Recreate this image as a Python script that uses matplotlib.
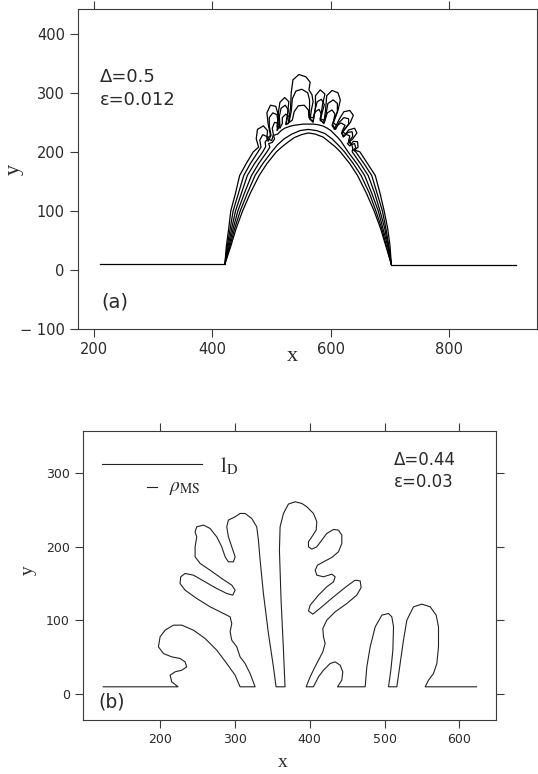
import matplotlib
matplotlib.use('Agg')
import matplotlib.pyplot as plt

plt.rcParams['font.family'] = ['DejaVu Sans']
plt.rcParams['mathtext.fontset'] = 'stix'

# ---------------- panel (a) data ----------------
a_xticks = [200, 400, 600, 800]
a_yticks = [-100, 0, 100, 200, 300, 400]
a_base_left = [(210, 10), (421, 10)]
a_base_right = [(702, 8), (912, 8)]

a_c0 = [(421, 10), (431, 40), (440, 70), (451, 100), (464, 130), (479, 160), (492, 180),
        (508, 200), (518, 209), (527, 216), (538, 224), (550, 229), (562, 232), (574, 230),
        (587, 225), (597, 217), (607, 209), (616, 200), (632, 180), (645, 160), (660, 130),
        (673, 100), (684, 70), (693, 40), (702, 10)]
a_c1 = [(421, 10), (429.5, 40), (437.5, 70), (447, 100), (459, 130), (472, 160), (485, 180),
        (500, 200), (510, 212), (521, 222), (534, 230), (548, 236), (562, 238), (576, 236),
        (590, 231), (602, 222), (613, 211), (623, 200), (638, 180), (651, 160), (665, 130),
        (676, 100), (686, 70), (694, 40), (702, 10)]
a_c2 = [(421, 10), (428, 40), (435, 70), (443, 100), (454, 130), (466, 160), (478, 180),
        (492, 200), (497, 208), (495, 214),
        (501, 216), (505, 222), (503, 228), (510, 230), (516, 236), (522, 240), (530, 243),
        (538, 245), (546, 246), (554, 247), (562, 247), (570, 247), (578, 246), (586, 244),
        (594, 240), (600, 236), (606, 230), (612, 224), (617, 218), (621, 212), (625, 206),
        (629, 200), (644, 180), (657, 160), (669, 130), (680, 100), (688, 70), (696, 40),
        (702, 10)]
a_c3 = [(421, 10), (426.5, 40), (432.5, 70), (439, 100), (449, 130), (459, 160), (471, 180),
        (485, 200),
        (490, 209), (489, 217), (494, 222), (500, 219),
        (503, 229), (501, 240), (505, 250), (512, 248), (514, 240),
        (518, 248), (518, 258), (524, 264), (530, 259), (530, 250),
        (535, 254), (538, 268), (545, 278), (555, 279), (562, 271), (563, 258),
        (570, 258), (574, 268), (580, 272), (584, 264), (582, 256),
        (590, 253), (594, 266), (602, 271), (607, 264), (604, 250),
        (610, 244), (617, 249), (624, 245), (619, 235),
        (625, 230), (632, 227), (630, 219),
        (635, 213), (637, 206),
        (636, 200), (650, 180), (663, 160), (674, 130), (683, 100), (691, 70), (697, 40),
        (702, 10)]
a_c4 = [(421, 10), (425, 40), (430, 70), (435, 100), (444, 130), (453, 160), (464, 180),
        (477, 200),
        (482, 208), (480, 220), (485, 229), (492, 226), (494, 218),
        (499, 228), (496, 243), (496, 258), (502, 266), (509, 263), (511, 249), (509, 236),
        (514, 244), (513, 260), (516, 274), (523, 279), (528, 271), (526, 255), (524, 246),
        (529, 249), (533, 268), (535, 290), (541, 303), (551, 306), (561, 300), (564, 288),
        (564, 272), (564, 256),
        (570, 252), (573, 270), (577, 285), (584, 289), (589, 280), (585, 265), (582, 253),
        (589, 249), (592, 265), (595, 282), (604, 288), (611, 282), (611, 268), (603, 246),
        (608, 238), (614, 250), (622, 258), (630, 256), (630, 247), (619, 232),
        (622, 226), (629, 233), (636, 234), (637, 226), (630, 218),
        (634, 212), (640, 214), (642, 207), (638, 203),
        (642, 200), (656, 180), (669, 160), (678, 130), (687, 100), (693, 70), (698, 40),
        (702, 10)]
a_c5 = [(421, 10), (423.5, 40), (427.5, 70), (431, 100), (439, 130), (446, 160), (457, 180),
        (469, 200),
        (478, 208), (474, 222), (476, 238), (486, 244), (493, 236), (492, 222),
        (498, 228), (494, 248), (492, 266), (498, 279), (507, 277), (511, 263), (509, 242),
        (513, 244), (511, 264), (514, 284), (522, 292), (529, 285), (527, 265), (524, 247),
        (528, 248), (532, 275), (533, 300), (536, 322), (546, 331), (558, 327), (565, 318),
        (563, 305), (568, 297), (570, 285), (567, 270), (565, 255),
        (570, 250), (574, 275), (574, 295), (582, 305), (590, 298), (586, 280), (582, 255),
        (588, 248), (591, 270), (593, 295), (602, 304), (612, 300), (616, 288), (612, 270),
        (602, 245),
        (606, 238), (614, 255), (622, 268), (632, 270), (638, 262), (633, 250), (618, 232),
        (621, 225), (630, 237), (640, 240), (644, 232), (637, 222), (628, 214),
        (632, 210), (638, 218), (645, 217), (646, 208), (640, 203),
        (649, 200), (662, 180), (675, 160), (683, 130), (690, 100), (696, 70), (700, 40),
        (702, 10)]
a_contours = [a_c0, a_c1, a_c2, a_c3, a_c4, a_c5]

# ---------------- panel (b) data ----------------
b_xticks = [200, 300, 400, 500, 600]
b_yticks = [0, 100, 200, 300]
b_base_left = [(124, 10), (224, 10)]
b_branch1 = [(224, 10), (215.6, 16.7), (213.4, 25.7), (220, 30.3), (229, 32.5), (235.6, 37),
             (233.4, 43.8), (226.7, 48.4), (215.6, 50.6), (204.5, 55.1), (197.8, 64.2),
             (200, 77.8), (206.7, 86.8), (217.8, 93.6), (229, 93.6), (244.6, 86.8),
             (260.2, 75.5), (275.7, 59.7), (289.1, 41.6), (300.3, 25.7), (306.9, 10)]
b_branch2 = [(327, 10), (320.3, 28), (313.6, 41.6), (306.9, 50.6), (302.5, 64.2), (295.8, 73.2),
             (293.6, 84.5), (295.8, 95.8), (293.6, 104.9), (284.7, 109.4), (266.8, 118.5),
             (249, 129.8), (233.4, 141.1), (226.7, 150.1), (227.6, 159.2), (233.4, 163.7),
             (244.6, 161.4), (260.2, 152.4), (275.7, 143.3), (289.1, 136.6), (297.1, 134.3),
             (300.3, 141.1), (295.8, 147.9), (282.4, 156.9), (266.8, 168.2), (253.5, 177.3),
             (246.8, 186.3), (246.8, 199.9), (249, 213.4), (246.8, 220.2), (249, 227),
             (257.9, 229.3), (266.8, 224.8), (275.7, 213.4), (282.4, 199.9), (286.9, 186.3),
             (291.3, 179.5), (298, 179.5), (300.3, 186.3), (295.8, 199.9), (291.3, 213.4),
             (289.1, 227), (291.3, 236.1), (300.3, 240.6), (306.9, 245.1), (313.6, 245.1),
             (322.5, 238.3), (329.2, 227), (331.4, 208.9), (333.7, 181.8), (338.1, 136.6),
             (344.8, 82.3), (351.5, 37), (355, 10)]
b_branch3 = [(367, 10), (364.9, 59.7), (361.7, 127.5), (359.5, 195.4), (360.4, 227),
             (364.9, 245.1), (371.5, 257.8), (380.5, 260.9), (389.4, 258.7), (396.1, 254.2),
             (405, 245.1), (409.5, 233.8), (408.6, 222.5), (402.8, 213.4), (398.3, 206.7),
             (398.3, 199.9), (402.8, 196.7), (409.5, 199.9), (416.2, 208.9), (422.8, 218),
             (431.8, 223.4), (438.4, 222.5), (442.9, 215.7), (442.9, 204.4), (438.4, 193.1),
             (429.5, 185.4), (418.4, 179.5), (410.4, 175), (407.3, 168.2), (409.5, 161.4),
             (418.4, 159.2), (429.5, 162.8), (434, 159.2), (431.8, 152.4), (422.8, 145.6),
             (411.7, 134.3), (400.6, 120.7), (398.3, 113), (404.1, 108.5), (416.2, 118.5),
             (431.8, 132), (449.6, 146.5), (460.7, 154.6), (467.4, 153.7), (468.7, 144.7),
             (462.9, 134.3), (449.6, 123), (434, 111.7), (422.8, 100.4), (417.5, 89.1),
             (418.4, 77.8), (420.6, 68.7), (417.5, 57.4), (411.7, 46.1), (405.9, 34.8),
             (400.6, 23.5), (395.2, 10)]
b_branch4 = [(405, 10), (411.7, 23.5), (418.4, 32.5), (427.3, 41.6), (434, 43.8), (440.7, 39.3),
             (444.2, 30.3), (442.9, 19), (437.1, 10)]
b_branch5 = [(474.1, 10), (476.3, 37), (480.8, 64.2), (487.5, 91.3), (496.4, 107.2),
             (505.3, 109.4), (509.7, 104.9), (512, 91.3), (511.1, 59.7), (508.4, 32.5),
             (505.3, 10)]
b_branch6 = [(516.4, 10), (520.9, 41.6), (525.3, 73.2), (529.8, 100.4), (538.7, 118.5),
             (549.8, 122.1), (561, 118.5), (569, 107.2), (572.1, 91.3), (572.1, 64.2),
             (569.9, 41.6), (565.4, 28), (558.8, 19), (554.3, 10)]
b_base_right = [(554.3, 10), (623, 10)]
b_interface = (b_base_left + b_branch1 + b_branch2 + b_branch3 + b_branch4 + b_branch5
               + b_branch6 + b_base_right)
b_lD = [(122, 312), (256, 312)]
b_rhoMS = [(183, 281), (196, 281)]

# ---------------- figure ----------------
fig = plt.figure(figsize=(5.38, 7.74), dpi=100)
axa = fig.add_axes([0.145, 0.575, 0.853, 0.4134])
axb = fig.add_axes([0.1543, 0.0698, 0.7677, 0.3734])

spine_col = '#3a3a3a'
txt_col = '#2a2a2a'
for ax in (axa, axb):
    for s in ax.spines.values():
        s.set_color(spine_col)
        s.set_linewidth(0.8)
    ax.tick_params(direction='out', length=6, width=0.8, color=spine_col, labelcolor=txt_col,
                   top=True, right=True, labeltop=False, labelright=False)


def xy(pts):
    return [p[0] for p in pts], [p[1] for p in pts]


# panel (a)
for seg in (a_base_left, a_base_right):
    axa.plot(*xy(seg), color='k', lw=0.9)
for c in a_contours:
    axa.plot(*xy(c), color='k', lw=0.9)
axa.set_xlim(173, 948)
axa.set_ylim(-100, 442)
axa.set_xticks(a_xticks)
axa.set_yticks(a_yticks)
axa.set_xticklabels([str(v) for v in a_xticks], fontsize=10.5)
axa.set_yticklabels([('\u2212 ' + str(-v)) if v < 0 else str(v) for v in a_yticks],
                    fontsize=10.5)
axa.set_xlabel('x', family=['Liberation Serif'], fontsize=16, color=txt_col,
               va='center', ha='center')
axa.set_ylabel('y', family=['Liberation Serif'], fontsize=16, color=txt_col,
               va='center', ha='center')
axa.xaxis.set_label_coords(0.468, -0.085)
axa.yaxis.set_label_coords(-0.139, 0.497)
axa.text(210, 327, '\u0394=0.5', fontsize=13, va='center', ha='left', color=txt_col)
axa.text(210, 288, '\u03b5=0.012', fontsize=13, va='center', ha='left', color=txt_col)
axa.text(212, -54, '(a)', fontsize=14, va='center', ha='left', color=txt_col)

# panel (b)
axb.plot(*xy(b_interface), color='#222222', lw=0.8)
axb.plot(*xy(b_lD), color='#222222', lw=0.8)
axb.plot(*xy(b_rhoMS), color='#222222', lw=0.8)
axb.text(280, 309, r'$\mathrm{l}_{\mathrm{D}}$', fontsize=15, va='center', ha='left',
         color=txt_col)
axb.text(212, 280, r'$\rho_{\mathrm{MS}}$', fontsize=14, va='center', ha='left', color=txt_col)
axb.text(512, 317, '\u0394=0.44', fontsize=12, va='center', ha='left', color=txt_col)
axb.text(512, 288, '\u03b5=0.03', fontsize=12, va='center', ha='left', color=txt_col)
axb.text(117, -10, '(b)', fontsize=13.5, va='center', ha='left', color=txt_col)
axb.set_xlim(97, 649)
axb.set_ylim(-35, 357)
axb.set_xticks(b_xticks)
axb.set_yticks(b_yticks)
axb.set_xticklabels([str(v) for v in b_xticks], fontsize=9)
axb.set_yticklabels([str(v) for v in b_yticks], fontsize=9)
axb.set_xlabel('x', family=['Liberation Serif'], fontsize=14, color=txt_col,
               va='center', ha='center')
axb.set_ylabel('y', family=['Liberation Serif'], fontsize=14, color=txt_col,
               va='center', ha='center')
axb.xaxis.set_label_coords(0.484, -0.148)
axb.yaxis.set_label_coords(-0.133, 0.52)

fig.savefig('out.png', dpi=100)
